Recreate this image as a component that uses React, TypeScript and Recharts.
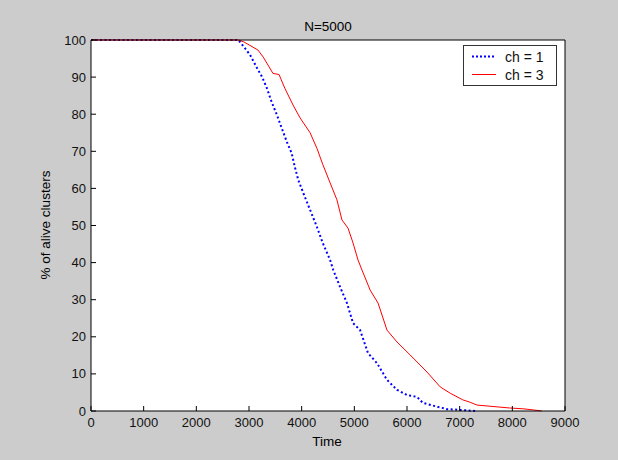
import React from 'react';
import { LineChart, Line, XAxis, YAxis } from 'recharts';

const timeTicks = [0, 1000, 2000, 3000, 4000, 5000, 6000, 7000, 8000, 9000];
const pctTicks = [0, 10, 20, 30, 40, 50, 60, 70, 80, 90, 100];

const ch1Time = [0, 2800, 3020, 3150, 3250, 3340, 3430, 3530, 3620, 3720, 3810, 3870, 3935, 4030, 4160, 4290, 4400, 4540, 4600, 4730, 4860, 4975, 5110, 5260, 5430, 5620, 5810, 6000, 6190, 6300, 6590, 6760, 7000, 7300];
const ch1Pct = [100, 100, 96, 92.5, 90, 87, 83.3, 79.8, 76.3, 72.5, 69.5, 65.8, 62.3, 58.8, 54.2, 49.6, 45.3, 40.7, 38, 33.4, 29.1, 23.7, 21.8, 15.6, 12.9, 8.4, 5.7, 4.3, 3.8, 2.2, 1.1, 0.5, 0.3, 0];

const ch3Time = [0, 2800, 2900, 3170, 3270, 3455, 3570, 3680, 3835, 3970, 4160, 4290, 4400, 4540, 4670, 4765, 4880, 4975, 5070, 5145, 5300, 5450, 5620, 5810, 6060, 6380, 6630, 6820, 7060, 7190, 7330, 7960, 8200, 8390, 8560];
const ch3Pct = [100, 100, 99.5, 97.3, 95.4, 91, 90.7, 87, 82.5, 79, 75, 70.8, 66.5, 61.5, 56.9, 51.5, 49.3, 45.3, 40.7, 38, 32.6, 29.1, 21.8, 18.6, 15.1, 10.5, 6.5, 4.8, 3, 2.4, 1.6, 0.8, 0.6, 0.3, 0];

const seriesNames = ['ch = 1', 'ch = 3'];
const seriesColors = ['#0000ff', '#ff0000'];

const ch1Data = ch1Time.map((t, i) => ({ t, v: ch1Pct[i] }));
const ch3Data = ch3Time.map((t, i) => ({ t, v: ch3Pct[i] }));

const FONT = '"Liberation Sans", Arial, Helvetica, sans-serif';

const BottomTick = (props: any) => {
  const { x, y, payload } = props;
  return (
    <g>
      <line x1={x} y1={y} x2={x} y2={y - 5} stroke="#000" strokeWidth={1} />
      <text x={x} y={y + 16} textAnchor="middle" fontFamily={FONT} fontSize={13} fill="#111">
        {payload.value}
      </text>
    </g>
  );
};

const TopTick = (props: any) => {
  const { x, y } = props;
  return <line x1={x} y1={y} x2={x} y2={y + 5} stroke="#000" strokeWidth={1} />;
};

const LeftTick = (props: any) => {
  const { x, y, payload } = props;
  return (
    <g>
      <line x1={x} y1={y} x2={x + 5} y2={y} stroke="#000" strokeWidth={1} />
      <text x={x - 5} y={y + 4.5} textAnchor="end" fontFamily={FONT} fontSize={13} fill="#111">
        {payload.value}
      </text>
    </g>
  );
};

const RightTick = (props: any) => {
  const { x, y } = props;
  return <line x1={x} y1={y} x2={x - 5} y2={y} stroke="#000" strokeWidth={1} />;
};

export default function App() {
  return (
    <div style={{ position: 'relative', width: 618, height: 460, background: '#cccccc', fontFamily: FONT }}>
      <style>{`body{margin:0}`}</style>
      <LineChart width={618} height={460} margin={{ top: 39, right: 52, bottom: 19, left: 51 }}>
        <rect x={91} y={40} width={474} height={371} fill="#ffffff" />
        <XAxis
          xAxisId="bottom"
          dataKey="t"
          type="number"
          domain={[0, 9000]}
          ticks={timeTicks}
          height={30}
          tickSize={0}
          tickMargin={0}
          tickLine={false}
          tick={<BottomTick />}
          axisLine={{ stroke: '#000' }}
          interval={0}
        />
        <XAxis
          xAxisId="top"
          orientation="top"
          dataKey="t"
          type="number"
          domain={[0, 9000]}
          ticks={timeTicks}
          height={1}
          tickSize={0}
          tickMargin={0}
          tickLine={false}
          tick={<TopTick />}
          axisLine={{ stroke: '#000' }}
          interval={0}
        />
        <YAxis
          yAxisId="left"
          type="number"
          domain={[0, 100]}
          ticks={pctTicks}
          width={40}
          tickSize={0}
          tickMargin={0}
          tickLine={false}
          tick={<LeftTick />}
          axisLine={{ stroke: '#000' }}
          interval={0}
        />
        <YAxis
          yAxisId="right"
          orientation="right"
          type="number"
          domain={[0, 100]}
          ticks={pctTicks}
          width={1}
          tickSize={0}
          tickMargin={0}
          tickLine={false}
          tick={<RightTick />}
          axisLine={{ stroke: '#000' }}
          interval={0}
        />
        <Line
          xAxisId="bottom"
          yAxisId="left"
          data={ch1Data}
          dataKey="v"
          name={seriesNames[0]}
          type="linear"
          stroke={seriesColors[0]}
          strokeWidth={2}
          strokeDasharray="2 2.5"
          dot={false}
          isAnimationActive={false}
        />
        <Line
          xAxisId="bottom"
          yAxisId="left"
          data={ch3Data}
          dataKey="v"
          name={seriesNames[1]}
          type="linear"
          stroke={seriesColors[1]}
          strokeWidth={1}
          dot={false}
          isAnimationActive={false}
        />
      </LineChart>

      <div style={{ position: 'absolute', left: 268, top: 19, width: 120, textAlign: 'center', fontSize: 13.5, color: '#000', lineHeight: '16px' }}>
        N=5000
      </div>
      <div style={{ position: 'absolute', left: 267, top: 434, width: 120, textAlign: 'center', fontSize: 13.5, color: '#000', lineHeight: '16px' }}>
        Time
      </div>
      <div
        style={{
          position: 'absolute',
          left: 46 - 80,
          top: 225 - 8,
          width: 160,
          textAlign: 'center',
          fontSize: 13.5,
          color: '#000',
          lineHeight: '16px',
          transform: 'rotate(-90deg)',
          transformOrigin: '80px 8px',
        }}
      >
        % of alive clusters
      </div>

      <div
        style={{
          position: 'absolute',
          left: 463,
          top: 45,
          width: 94,
          height: 41,
          boxSizing: 'border-box',
          border: '1px solid #333',
          background: '#fff',
        }}
      >
        {seriesNames.map((name, i) => (
          <div key={name} style={{ position: 'absolute', left: 0, top: 3 + i * 18, height: 16, width: 92 }}>
            <svg width={30} height={16} style={{ position: 'absolute', left: 8, top: 0 }}>
              <line
                x1={0}
                y1={7.5}
                x2={24}
                y2={7.5}
                stroke={seriesColors[i]}
                strokeWidth={i === 0 ? 2 : 1}
                strokeDasharray={i === 0 ? '2 2' : undefined}
              />
            </svg>
            <span style={{ position: 'absolute', left: 41, top: 0, fontSize: 14, lineHeight: '16px', color: '#111', whiteSpace: 'nowrap' }}>
              {name}
            </span>
          </div>
        ))}
      </div>
    </div>
  );
}
